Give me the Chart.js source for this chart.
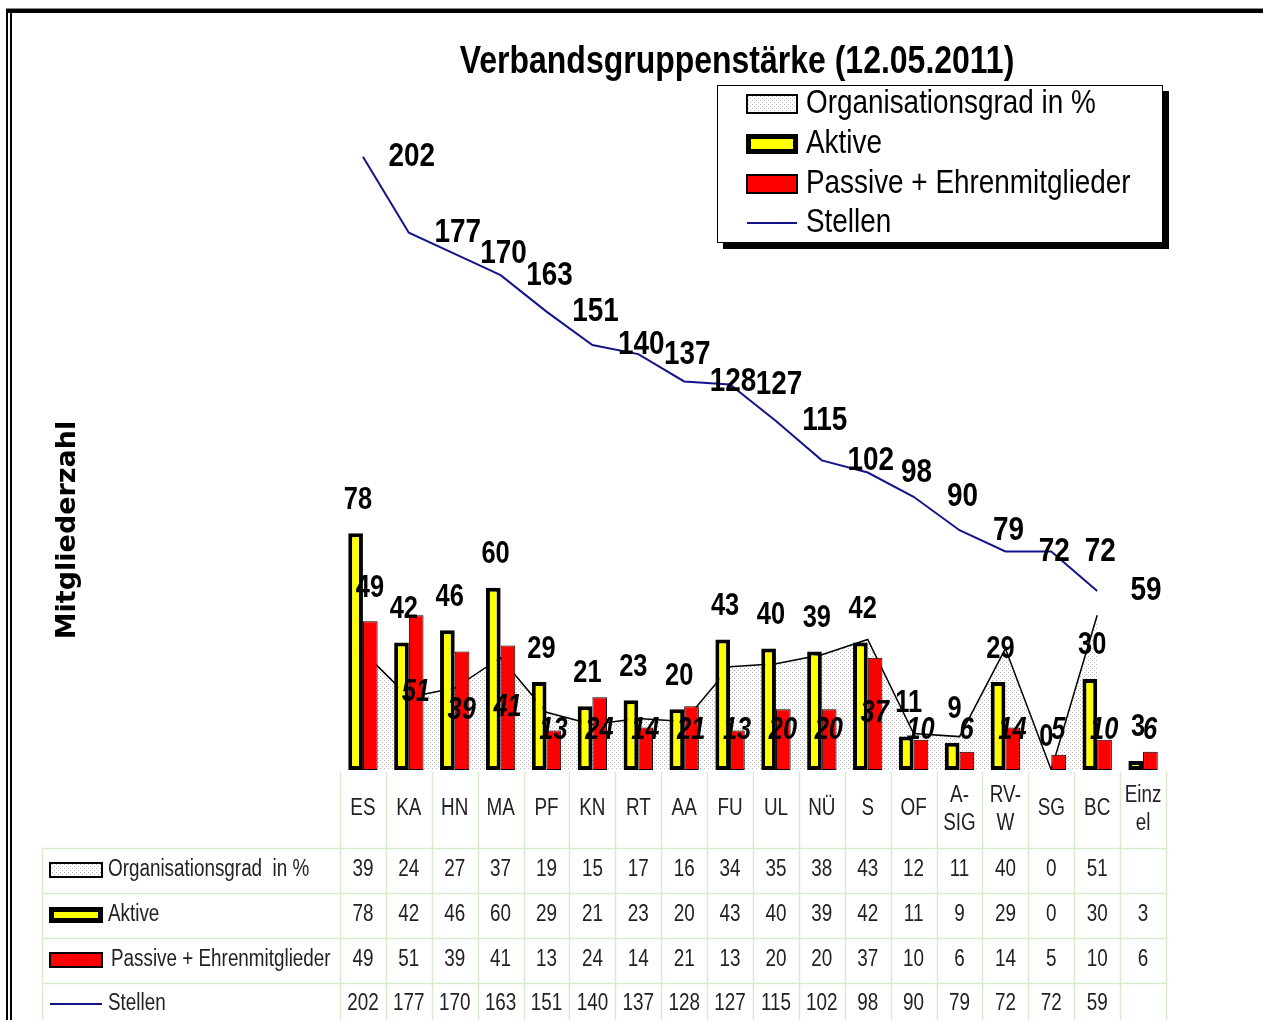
<!DOCTYPE html>
<html lang="de">
<head>
<meta charset="UTF-8" />
<title>Verbandsgruppenstärke</title>
<script src="https://cdn.jsdelivr.net/npm/chart.js"></script>
<style>
  body { margin: 0; background: #fff; }
  canvas { display: block; }
</style>
</head>
<body>
<canvas id="chart" width="1263" height="1020"></canvas>
<script>
// data (12.05.2011)
const categories = ["ES", "KA", "HN", "MA", "PF", "KN", "RT", "AA", "FU", "UL", "NÜ", "S", "OF", "A-SIG", "RV-W", "SG", "BC", "Einzel"];
const tickLabels = [["ES"], ["KA"], ["HN"], ["MA"], ["PF"], ["KN"], ["RT"], ["AA"], ["FU"], ["UL"], ["NÜ"], ["S"], ["OF"], ["A-", "SIG"], ["RV-", "W"], ["SG"], ["BC"], ["Einz", "el"]];
const orgGrad = [39, 24, 27, 37, 19, 15, 17, 16, 34, 35, 38, 43, 12, 11, 40, 0, 51, null];
const aktive = [78, 42, 46, 60, 29, 21, 23, 20, 43, 40, 39, 42, 11, 9, 29, 0, 30, 3];
const passive = [49, 51, 39, 41, 13, 24, 14, 21, 13, 20, 20, 37, 10, 6, 14, 5, 10, 6];
const stellen = [202, 177, 170, 163, 151, 140, 137, 128, 127, 115, 102, 98, 90, 79, 72, 72, 59, null];

const seriesNames = ["Organisationsgrad in %", "Aktive", "Passive + Ehrenmitglieder", "Stellen"];
const tableNames = ["Organisationsgrad  in %", "Aktive", "Passive + Ehrenmitglieder", "Stellen"];

//check for the narrow font, otherwise squeeze the normal one
const probe = document.createElement("canvas").getContext("2d");
function hasFont(name) {
  probe.font = "40px monospace";
  const a = probe.measureText("abcdefghijklmnop").width;
  probe.font = '40px "' + name + '", monospace';
  return probe.measureText("abcdefghijklmnop").width !== a;
}
const NARROW = hasFont("Liberation Sans Narrow");

function txt(ctx, s, x, y, size, o) {
  o = o || {};
  ctx.save();
  ctx.fillStyle = o.color || "#000";
  ctx.textAlign = o.align || "center";
  ctx.textBaseline = "middle";
  const style = (o.italic ? "italic " : "") + (o.bold ? "bold " : "");
  if (NARROW) {
    ctx.font = style + size + 'px "Liberation Sans Narrow"';
    ctx.fillText(s, x, y);
  } else {
    ctx.translate(x, y);
    ctx.scale(0.82, 1);
    ctx.font = style + size + 'px "Liberation Sans"';
    ctx.fillText(s, 0, 0);
  }
  ctx.restore();
}

function dotPattern(ctx) {
  const c = document.createElement("canvas");
  c.width = 4; c.height = 4;
  const g = c.getContext("2d");
  g.fillStyle = "#fff";
  g.fillRect(0, 0, 4, 4);
  g.fillStyle = "#b5b5b5";
  g.fillRect(0, 0, 1, 1);
  g.fillRect(2, 2, 1, 1);
  return ctx.createPattern(c, "repeat");
}

const ctx = document.getElementById("chart").getContext("2d");
const dots = dotPattern(ctx);
const NAVY = "#14148a";
const GRID = "#d6eccd";

// small legend / table keys
function drawKey(ctx, k, x, y, w, h) {
  ctx.save();
  if (k === 0) {
    ctx.fillStyle = dots; ctx.fillRect(x, y, w, h);
    ctx.strokeStyle = "#000"; ctx.lineWidth = 2; ctx.strokeRect(x, y, w, h);
  } else if (k === 1) {
    ctx.fillStyle = "#000"; ctx.fillRect(x - 1, y - 1, w + 2, h + 2);
    ctx.fillStyle = "#ffff00"; ctx.fillRect(x + 4, y + 4, w - 8, h - 8);
  } else if (k === 2) {
    ctx.fillStyle = "#ff0000"; ctx.fillRect(x, y, w, h);
    ctx.strokeStyle = "#000"; ctx.lineWidth = 2; ctx.strokeRect(x, y, w, h);
  } else {
    ctx.strokeStyle = NAVY; ctx.lineWidth = 2;
    ctx.beginPath(); ctx.moveTo(x, y + h / 2); ctx.lineTo(x + w, y + h / 2); ctx.stroke();
  }
  ctx.restore();
}

const decor = {
  id: "decor",
  beforeDraw(chart) {
    const c = chart.ctx;
    c.save();
    c.fillStyle = "#fff";
    c.fillRect(0, 0, chart.width, chart.height);
    //double frame
    c.fillStyle = "#888"; c.fillRect(6, 8, chart.width, 1);
    c.fillStyle = "#000"; c.fillRect(6, 9, chart.width, 4);
    c.fillRect(6, 9, 2, chart.height);
    c.fillRect(10, 9, 2, chart.height);
    c.restore();
  },
  afterDatasetsDraw(chart) {
    const c = chart.ctx;
    const xs = chart.scales.x, ys = chart.scales.y;
    //Stellen labels sit one category to the right
    stellen.forEach((v, i) => {
      if (v == null) return;
      txt(c, String(v), xs.getPixelForValue(i + 1) + 3, ys.getPixelForValue(v), 34, { bold: true });
    });
    aktive.forEach((v, i) => {
      txt(c, String(v), xs.getPixelForValue(i) - 5, ys.getPixelForValue(v) - 33, 31, { bold: true });
    });
    passive.forEach((v, i) => {
      if (i === 0) {
        txt(c, String(v), xs.getPixelForValue(i) + 7, ys.getPixelForValue(v) - 33, 31, { bold: true });
      } else {
        txt(c, String(v), xs.getPixelForValue(i) + 7, ys.getPixelForValue(Math.max(v / 2, 13)), 31, { bold: true, italic: true });
      }
    });
  },
  afterDraw(chart) {
    const c = chart.ctx;
    const xs = chart.scales.x;
    const area = chart.chartArea;
    const catW = (area.right - area.left) / categories.length;

    // title
    txt(c, "Verbandsgruppenstärke (12.05.2011)", 737, 62, 39, { bold: true });

    // y title
    c.save();
    c.translate(68, 530);
    c.rotate(-Math.PI / 2);
    c.font = 'bold 27px "DejaVu Sans"';
    c.textAlign = "center"; c.textBaseline = "middle"; c.fillStyle = "#000";
    c.fillText("Mitgliederzahl", 0, 0);
    c.restore();

    // legend box
    c.save();
    c.fillStyle = "#000"; c.fillRect(723, 91, 446, 158);
    c.fillStyle = "#fff"; c.fillRect(717, 85, 446, 158);
    c.strokeStyle = "#000"; c.lineWidth = 1; c.strokeRect(717.5, 85.5, 445, 157);
    c.restore();
    const legY = [104, 144, 184, 223];
    seriesNames.forEach((n, k) => {
      drawKey(c, k, 747, legY[k] - 9, 50, 18);
      txt(c, n, 806, legY[k], 34, { align: "left" });
    });

    // data table
    const top = area.bottom, rowLines = [848, 893, 938, 983], rowY = [870, 915, 960, 1004];
    c.save();
    c.strokeStyle = GRID; c.lineWidth = 1.5;
    for (let i = 0; i <= categories.length; i++) {
      const x = Math.round(area.left + i * catW) + 0.5;
      c.beginPath(); c.moveTo(x, top + 2); c.lineTo(x, chart.height); c.stroke();
    }
    c.beginPath(); c.moveTo(42.5, rowLines[0]); c.lineTo(42.5, chart.height); c.stroke();
    rowLines.forEach(y => {
      c.beginPath(); c.moveTo(42, y + 0.5); c.lineTo(area.right, y + 0.5); c.stroke();
    });
    c.restore();

    tickLabels.forEach((lines, i) => {
      const x = xs.getPixelForValue(i);
      if (lines.length === 1) txt(c, lines[0], x, 809, 23, { color: "#222" });
      else lines.forEach((l, j) => txt(c, l, x, 796 + j * 28, 23, { color: "#222" }));
    });
    [orgGrad, aktive, passive, stellen].forEach((arr, r) => {
      drawKey(c, r, 50, rowY[r] - 7, 52, 14);
      txt(c, tableNames[r], r === 2 ? 111 : 108, rowY[r], 23, { align: "left", color: "#222" });
      arr.forEach((v, i) => {
        if (v == null) return;
        txt(c, String(v), xs.getPixelForValue(i), rowY[r], 23, { color: "#222" });
      });
    });
  }
};

const myChart = new Chart(ctx, {
  type: "bar",
  data: {
    labels: categories,
    datasets: [
      {
        type: "line",
        label: seriesNames[0],
        data: orgGrad,
        fill: "origin",
        backgroundColor: dots,
        borderColor: "#000",
        borderWidth: 1.5,
        pointRadius: 0,
        tension: 0,
        order: 3,
      },
      {
        label: seriesNames[1],
        data: aktive,
        backgroundColor: "#ffff00",
        borderColor: "#000",
        borderWidth: 4,
        borderSkipped: false,
        order: 2,
      },
      {
        label: seriesNames[2],
        data: passive,
        backgroundColor: "#ff0000",
        borderColor: "#000",
        borderWidth: 1,
        borderSkipped: false,
        order: 2,
      },
      {
        type: "line",
        label: seriesNames[3],
        data: stellen,
        borderColor: NAVY,
        borderWidth: 2,
        pointRadius: 0,
        fill: false,
        tension: 0,
        order: 1,
      },
    ],
  },
  options: {
    responsive: false,
    animation: false,
    layout: { padding: { left: 340, right: 97, top: 87, bottom: 250 } },
    datasets: { bar: { categoryPercentage: 0.64, barPercentage: 1 } },
    scales: {
      x: { display: false, offset: true },
      y: { display: false, min: 0, max: 225 },
    },
    plugins: {
      legend: { display: false },
      tooltip: { enabled: false },
      title: { display: false },
    },
  },
  plugins: [decor],
});
</script>
</body>
</html>
